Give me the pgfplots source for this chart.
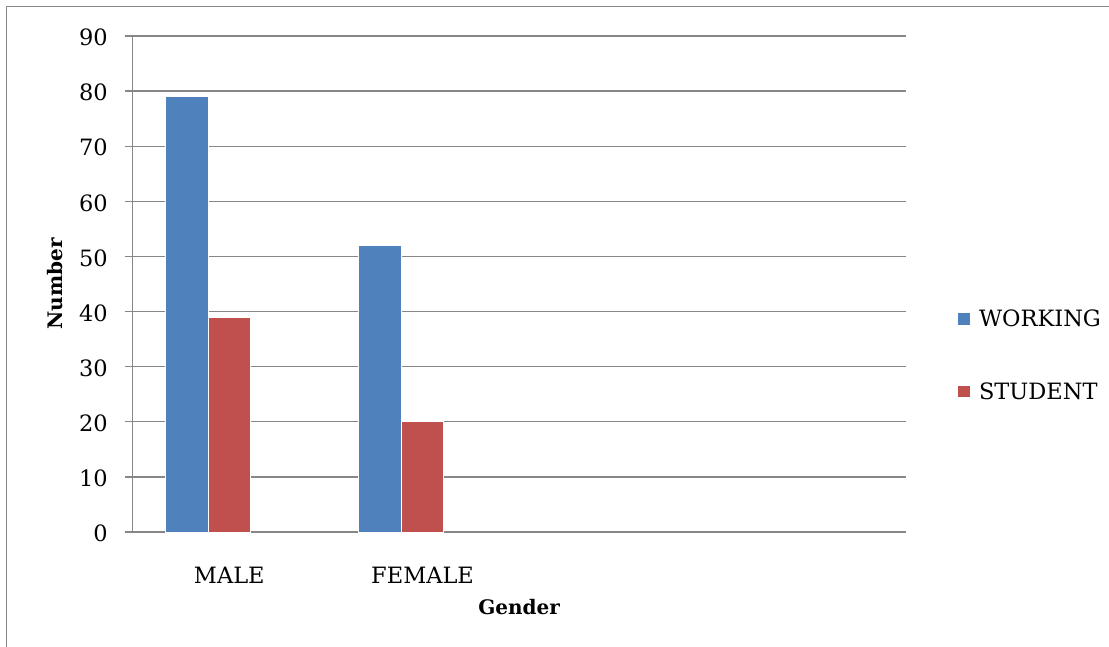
\documentclass[border=0pt]{standalone}
\usepackage{pgfplots}
\pgfplotsset{compat=1.18}
\usepackage{fontspec}
\setmainfont{DejaVu Serif}
\definecolor{bblue}{HTML}{4F81BD}
\definecolor{bred}{HTML}{C0504D}
\definecolor{gridgray}{HTML}{878787}
\begin{document}
\begin{tikzpicture}
\path[use as bounding box] (0,0) rectangle (1109pt,-647pt);
\draw[color=gridgray, line width=1.6pt] (6.5pt,-647pt) -- (6.5pt,-6.5pt) -- (1109pt,-6.5pt);
\begin{axis}[
  at={(132.7pt,-532pt)}, anchor=south west,
  scale only axis, width=773pt, height=496pt,
  xmin=-0.5, xmax=3.5, ymin=0, ymax=90,
  xtick={0,1}, xticklabels={MALE,FEMALE},
  ytick={0,10,...,90},
  axis x line*=bottom, axis y line*=left,
  axis line style={draw=gridgray, line width=1.3pt, -},
  ymajorgrids, major grid style={draw=gridgray, line width=1.3pt},
  tick align=outside,
  x tick style={draw=none},
  y tick style={draw=gridgray, line width=1.3pt},
  major tick length=8pt,
  /pgf/number format/assume math mode=true,
  tick label style={font=\fontsize{22.5}{27}\selectfont},
  yticklabel style={anchor=east, inner sep=0pt, xshift=-16.7pt, yshift=-1.5pt},
  xticklabel style={anchor=base, inner sep=0pt, yshift=-43pt},
  xlabel={Gender}, ylabel={Number},
  xlabel style={at={(axis description cs:0.5,-0.1673)}, anchor=base, inner sep=0pt, font=\bfseries\fontsize{20}{24}\selectfont},
  ylabel style={at={(axis description cs:-0.1005,0.5)}, anchor=center, inner sep=0pt, font=\bfseries\fontsize{20}{24}\selectfont},
  legend style={at={(axis description cs:1.068,0.4476)}, anchor=north west, draw=none, fill=none, inner sep=0pt, row sep=54pt, column sep=9pt, font=\fontsize{22.5}{27}\selectfont, nodes={inner sep=0pt}},
  legend cell align=left,
  legend image code/.code={\fill[#1,draw=none] (0pt,-5.8pt) rectangle (11.6pt,5.8pt);},
]
\addplot[ybar, bar width=0.22, bar shift=-0.22, fill=bblue, draw=white, line width=0.8pt] coordinates {(0,79) (1,52)};
\addplot[ybar, bar width=0.22, bar shift=0, fill=bred, draw=white, line width=0.8pt] coordinates {(0,39) (1,20)};
\legend{WORKING,STUDENT}
\end{axis}
\end{tikzpicture}
\end{document}
